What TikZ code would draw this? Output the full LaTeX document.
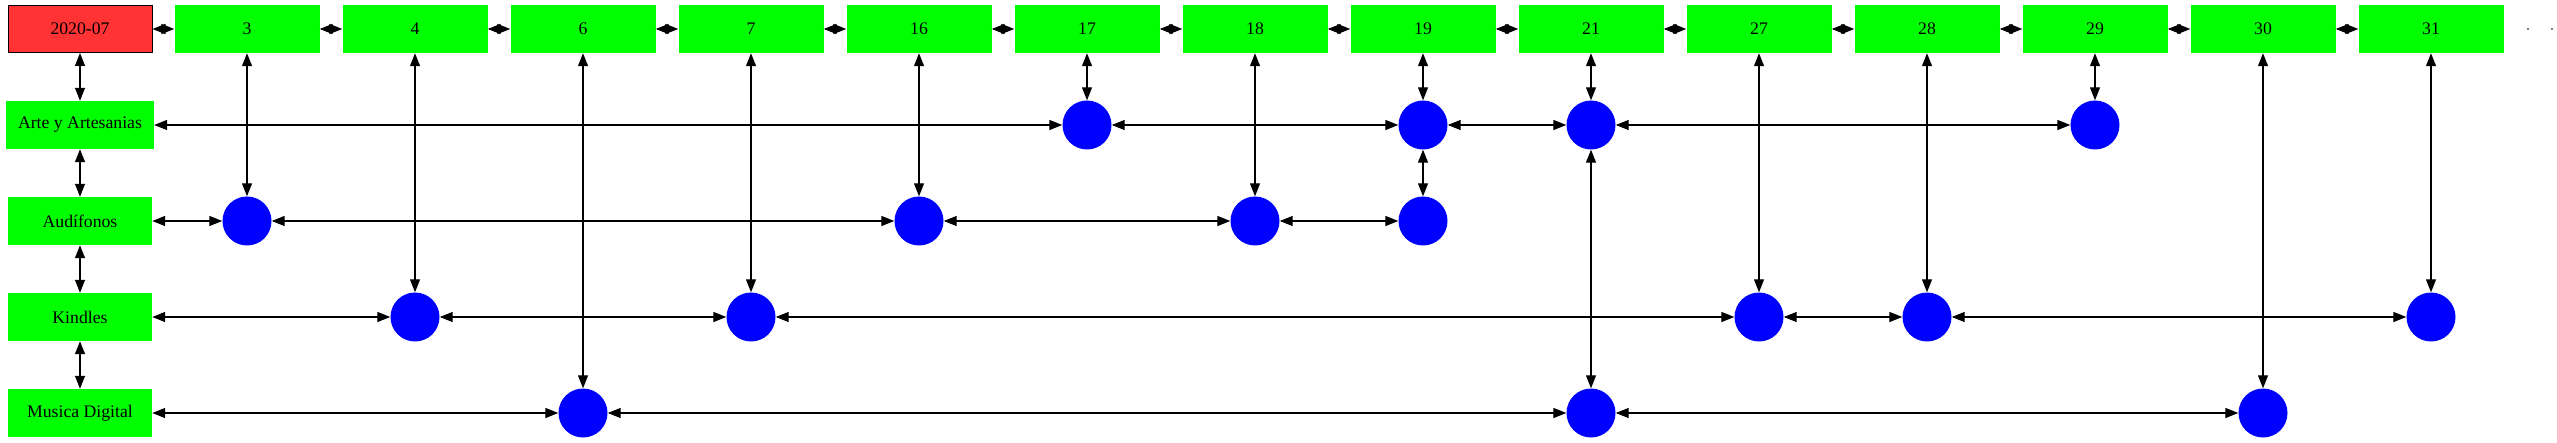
\documentclass[tikz,border=0pt]{standalone}
\usepackage{fontspec}
\setmainfont{Liberation Serif}
\usetikzlibrary{arrows.meta}
\definecolor{gv red}{HTML}{FF3333}
\definecolor{gv green}{HTML}{00FF00}
\definecolor{gv blue}{HTML}{0000FF}
\tikzset{
  x=1pt, y=-1pt,
  every node/.style={font=\fontsize{17.7}{20}\selectfont},
  topbox/.style={rectangle, fill=gv green, minimum width=145pt, minimum height=48pt, inner sep=0pt},
  rootbox/.style={rectangle, fill=gv red, draw=black, line width=1pt, minimum width=144pt, minimum height=47pt, inner sep=0pt},
  rowbox/.style={rectangle, fill=gv green, minimum width=144pt, minimum height=48pt, inner xsep=12pt, inner ysep=0pt},
  dotnode/.style={circle, fill=gv blue, minimum size=49pt, inner sep=0pt},
  tinydot/.style={rectangle, fill=gray, minimum width=2pt, minimum height=1.5pt, inner sep=0pt},
  link/.style={line width=1.3pt, draw=black, {Triangle[length=13pt,width=10pt]}-{Triangle[length=13pt,width=10pt]}},
}
\begin{document}
\begin{tikzpicture}
\useasboundingbox (0,0) rectangle (2557,443);
% root and row labels
\node[rootbox] (root) at (80,29) {2020-07};
\node[rowbox] (arte) at (80,125) {Arte y Artesanias};
\node[rowbox] (aud) at (80,221) {Audífonos};
\node[rowbox] (kin) at (80,317) {Kindles};
\node[rowbox] (mus) at (80,413) {Musica Digital};
% top row
\foreach \n [count=\i from 0] in {3,4,6,7,16,17,18,19,21,27,28,29,30,31}{
  \node[topbox] (t\n) at ({247+168*\i},29) {\n};
}
\node[tinydot] (d1) at (2528,29) {};
\node[tinydot] (d2) at (2552,29) {};
% circles: Arte row (y=125)
\node[dotnode] (a17) at (1087,125) {};
\node[dotnode] (a19) at (1423,125) {};
\node[dotnode] (a21) at (1591,125) {};
\node[dotnode] (a29) at (2095,125) {};
% Audifonos row (y=221)
\node[dotnode] (b3) at (247,221) {};
\node[dotnode] (b16) at (919,221) {};
\node[dotnode] (b18) at (1255,221) {};
\node[dotnode] (b19) at (1423,221) {};
% Kindles row (y=317)
\node[dotnode] (k4) at (415,317) {};
\node[dotnode] (k7) at (751,317) {};
\node[dotnode] (k27) at (1759,317) {};
\node[dotnode] (k28) at (1927,317) {};
\node[dotnode] (k31) at (2431,317) {};
% Musica row (y=413)
\node[dotnode] (m6) at (583,413) {};
\node[dotnode] (m21) at (1591,413) {};
\node[dotnode] (m30) at (2263,413) {};
% top row links
\draw[link] (root) -- (t3);
\draw[link] (t3) -- (t4);
\draw[link] (t4) -- (t6);
\draw[link] (t6) -- (t7);
\draw[link] (t7) -- (t16);
\draw[link] (t16) -- (t17);
\draw[link] (t17) -- (t18);
\draw[link] (t18) -- (t19);
\draw[link] (t19) -- (t21);
\draw[link] (t21) -- (t27);
\draw[link] (t27) -- (t28);
\draw[link] (t28) -- (t29);
\draw[link] (t29) -- (t30);
\draw[link] (t30) -- (t31);
% left column links
\draw[link] (root) -- (arte);
\draw[link] (arte) -- (aud);
\draw[link] (aud) -- (kin);
\draw[link] (kin) -- (mus);
% row links
\draw[link] (arte) -- (a17);
\draw[link] (a17) -- (a19);
\draw[link] (a19) -- (a21);
\draw[link] (a21) -- (a29);
\draw[link] (aud) -- (b3);
\draw[link] (b3) -- (b16);
\draw[link] (b16) -- (b18);
\draw[link] (b18) -- (b19);
\draw[link] (kin) -- (k4);
\draw[link] (k4) -- (k7);
\draw[link] (k7) -- (k27);
\draw[link] (k27) -- (k28);
\draw[link] (k28) -- (k31);
\draw[link] (mus) -- (m6);
\draw[link] (m6) -- (m21);
\draw[link] (m21) -- (m30);
% column links
\draw[link] (t3) -- (b3);
\draw[link] (t4) -- (k4);
\draw[link] (t6) -- (m6);
\draw[link] (t7) -- (k7);
\draw[link] (t16) -- (b16);
\draw[link] (t17) -- (a17);
\draw[link] (t18) -- (b18);
\draw[link] (t19) -- (a19);
\draw[link] (a19) -- (b19);
\draw[link] (t21) -- (a21);
\draw[link] (a21) -- (m21);
\draw[link] (t27) -- (k27);
\draw[link] (t28) -- (k28);
\draw[link] (t29) -- (a29);
\draw[link] (t30) -- (m30);
\draw[link] (t31) -- (k31);
\end{tikzpicture}
\end{document}
